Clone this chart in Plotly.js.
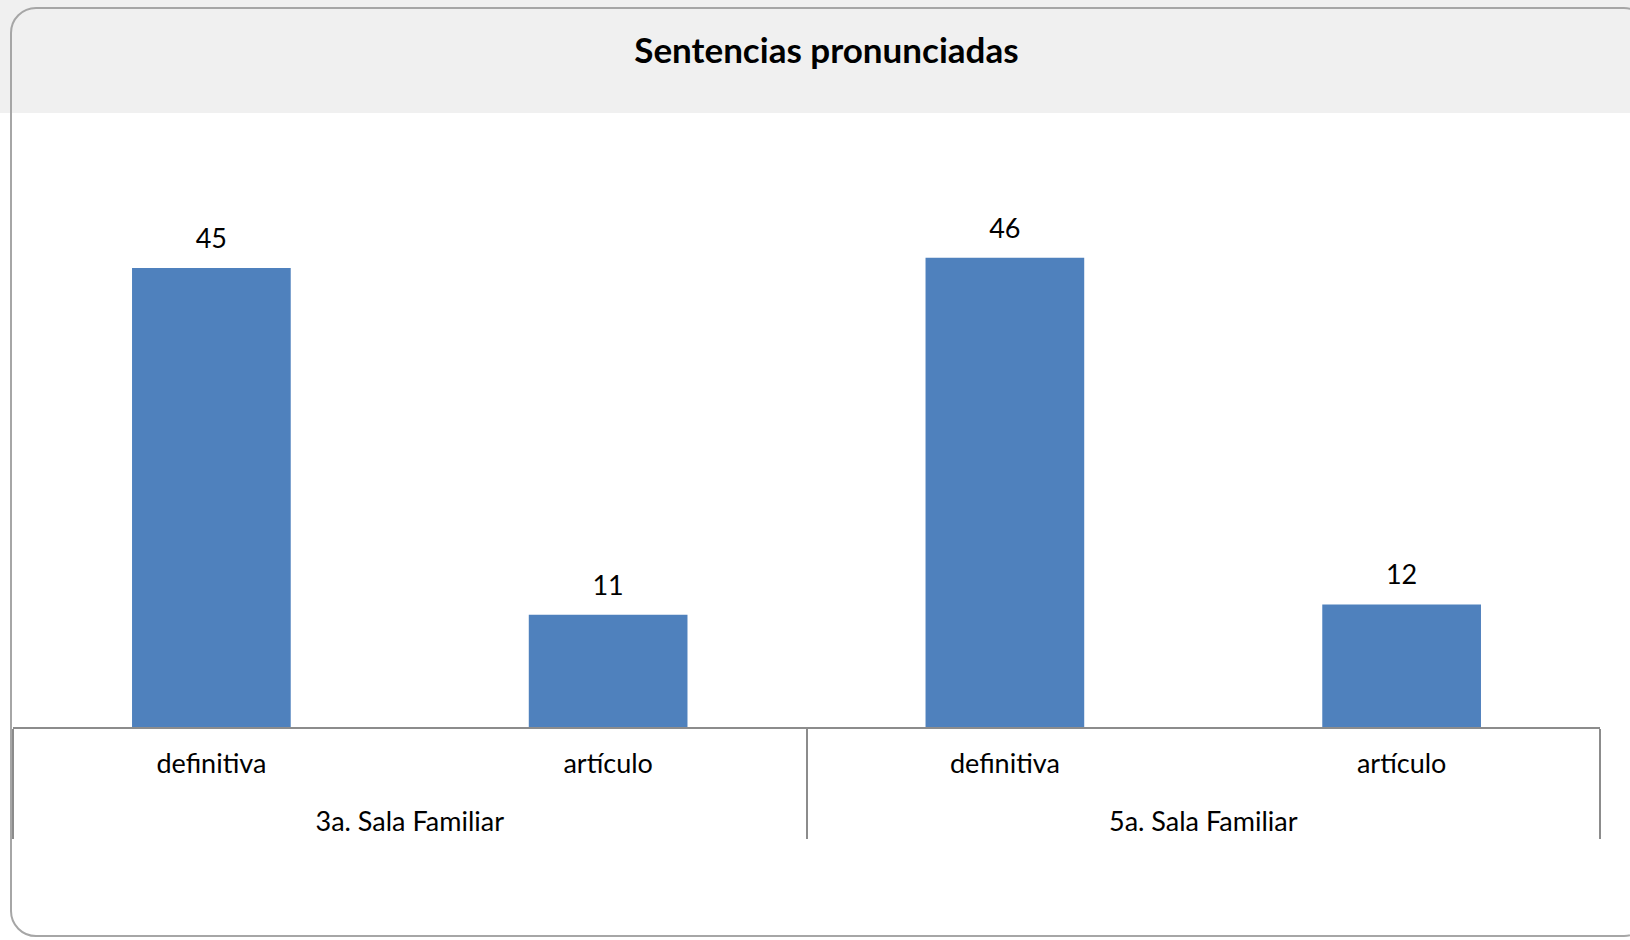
<!DOCTYPE html>
<html>
<head>
<meta charset="utf-8">
<script src="https://cdn.plot.ly/plotly-3.0.1.min.js"></script>
<style>
  html, body { margin: 0; padding: 0; }
  body {
    width: 1630px; height: 940px; overflow: hidden; position: relative;
    background: linear-gradient(to bottom, #f0f0f0 0px, #f0f0f0 113px, #ffffff 113px, #ffffff 940px);
    font-family: Lato, sans-serif;
  }
  #frame {
    position: absolute; left: 10px; top: 7px; width: 1640px; height: 930px;
    border: 2px solid #a6a6a6; border-radius: 26px; box-sizing: border-box;
  }
  #chart { position: absolute; left: 0; top: 0; width: 1630px; height: 940px; }
</style>
</head>
<body>
<div id="frame"></div>
<div id="chart"></div>
<script>
const groups = ["3a. Sala Familiar", "3a. Sala Familiar", "5a. Sala Familiar", "5a. Sala Familiar"];
const categories = ["definitiva", "artículo", "definitiva", "artículo"];
const values = [45, 11, 46, 12];
const chartTitle = "Sentencias pronunciadas";

// Category tick labels get an invisible second line so the group row sits lower, as in the reference.
const catLabels = categories.map(c => c + '<br><span style="color:rgba(0,0,0,0)">.</span>');

const bars = {
  type: "bar",
  x: [groups, catLabels],
  y: values,
  marker: { color: "#4f81bd" },
  hoverinfo: "skip"
};

const labels = {
  type: "scatter",
  mode: "markers+text",
  x: [groups, catLabels],
  y: values,
  text: values.map(String),
  textposition: "top center",
  marker: { size: 20, opacity: 0 },
  cliponaxis: false,
  textfont: { family: "Lato, sans-serif", size: 27, color: "#000000" },
  hoverinfo: "skip"
};

const layout = {
  width: 1630, height: 940,
  paper_bgcolor: "rgba(0,0,0,0)",
  plot_bgcolor: "rgba(0,0,0,0)",
  margin: { l: 13, r: 30, t: 217, b: 213 },
  bargap: 0.6,
  showlegend: false,
  font: { family: "Lato, sans-serif", size: 27, color: "#000000" },
  title: {
    text: "<b>" + chartTitle + "</b>",
    x: 0.507, xref: "container", xanchor: "center",
    y: 1 - 51/940, yref: "container", yanchor: "middle",
    font: { family: "Lato, sans-serif", size: 35, color: "#000000" }
  },
  xaxis: {
    type: "multicategory",
    showline: true, linecolor: "#8c8c8c", linewidth: 2,
    showdividers: true, dividercolor: "#8c8c8c", dividerwidth: 2,
    ticks: "", ticklabelstandoff: 12,
    showgrid: false, zeroline: false,
    tickfont: { family: "Lato, sans-serif", size: 27, color: "#000000" }
  },
  yaxis: {
    range: [0, 50], visible: false, showgrid: false, zeroline: false, fixedrange: true
  }
};

Plotly.newPlot("chart", [bars, labels], layout, { staticPlot: true });
</script>
</body>
</html>
